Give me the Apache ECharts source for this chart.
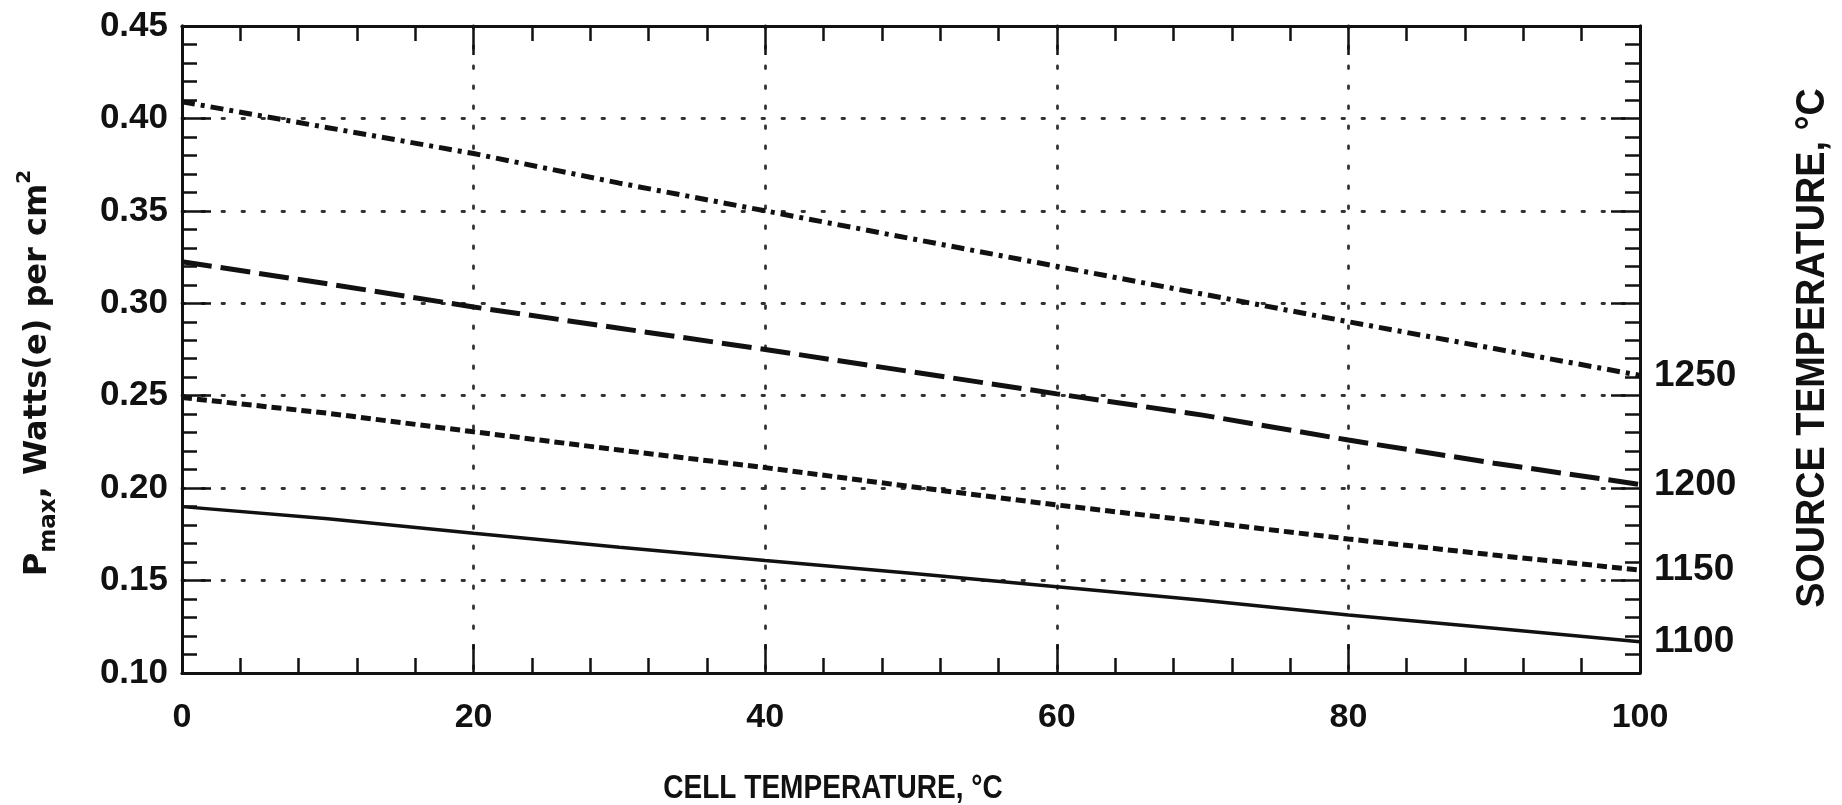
<!DOCTYPE html>
<html><head><meta charset="utf-8">
<script src="https://cdn.jsdelivr.net/npm/echarts@6/dist/echarts.min.js"></script>
<style>html,body{margin:0;padding:0;background:#fff}#c{width:1842px;height:805px}</style>
</head><body><div id="c"></div>
<script>
// Cell temperature (°C) sample points
const cellTemp = [0, 10, 20, 30, 40, 50, 60, 70, 80, 90, 100];
// Pmax, W(e)/cm2 for each source temperature
const src1100 = [0.190, 0.1835, 0.1756, 0.168, 0.1608, 0.154, 0.1467, 0.1393, 0.1314, 0.1242, 0.1169];
const src1150 = [0.249, 0.2405, 0.2305, 0.2206, 0.2111, 0.2008, 0.1909, 0.1818, 0.1725, 0.1638, 0.1557];
const src1200 = [0.3225, 0.3105, 0.298, 0.2865, 0.275, 0.263, 0.251, 0.2395, 0.226, 0.2135, 0.202];
const src1250 = [0.409, 0.395, 0.381, 0.365, 0.350, 0.335, 0.320, 0.305, 0.290, 0.2755, 0.261];
const sourceLabels = ['1100', '1150', '1200', '1250'];
const xTitle = 'CELL TEMPERATURE, °C';
const yRightTitle = 'SOURCE TEMPERATURE, °C';

const INK = '#111';
const AF = 'Liberation Sans, Arial, sans-serif';
const DF = 'DejaVu Sans, sans-serif';

const chart = echarts.init(document.getElementById('c'), null, {renderer: 'canvas'});

const dotted = {show: true, lineStyle: {color: '#333', width: 2.8, type: [2.5, 17.5], cap: 'round'}};
function axisCommon() {
  return {
    axisLine: {show: true, onZero: false, lineStyle: {color: INK, width: 3}},
    axisTick: {show: true, inside: true, length: 29, lineStyle: {color: INK, width: 2.5}},
    minorTick: {show: true, splitNumber: 5, length: 15, lineStyle: {color: INK, width: 2.5}},
    minorSplitLine: {show: false}
  };
}

const seriesData = [src1100, src1150, src1200, src1250];
const lineStyles = [
  {width: 3.5, type: 'solid'},
  {width: 5, type: [10, 5]},
  {width: 5, type: [30, 9]},
  {width: 5, type: [13, 6, 4, 6]}
];

const option = {
  animation: false,
  backgroundColor: '#fff',
  grid: {left: 182, right: 202, top: 26, bottom: 132, containLabel: false},
  xAxis: [
    Object.assign({
      type: 'value', min: 0, max: 100, interval: 20, position: 'bottom',
      splitLine: dotted,
      axisLabel: {show: true, margin: 28, color: INK, fontSize: 34, fontWeight: 'bold', fontFamily: AF}
    }, axisCommon()),
    Object.assign({
      type: 'value', min: 0, max: 100, interval: 20, position: 'top',
      splitLine: {show: false}, axisLabel: {show: false}
    }, axisCommon())
  ],
  yAxis: [
    Object.assign({
      type: 'value', min: 0.10, max: 0.45, interval: 0.05, position: 'left',
      splitLine: dotted,
      axisLabel: {show: true, margin: 14, color: INK, fontSize: 35, fontWeight: 'bold', fontFamily: AF,
        formatter: v => v.toFixed(2)}
    }, axisCommon()),
    Object.assign({
      type: 'value', min: 0.10, max: 0.45, interval: 0.05, position: 'right',
      splitLine: {show: false}, axisLabel: {show: false}
    }, axisCommon())
  ],
  series: seriesData.map((d, i) => ({
    type: 'line',
    name: sourceLabels[i],
    xAxisIndex: 0, yAxisIndex: 0,
    data: cellTemp.map((x, k) => [x, d[k]]),
    showSymbol: false, symbol: 'none',
    smooth: false,
    lineStyle: Object.assign({color: INK}, lineStyles[i]),
    endLabel: {show: true, formatter: sourceLabels[i], distance: 14, color: INK,
      fontSize: 37, fontWeight: 'bold', fontFamily: AF},
    z: 5
  })),
  graphic: [
    {type: 'text', x: 833, y: 789, scaleX: 0.85, style: {text: xTitle, align: 'center', verticalAlign: 'middle',
      fill: INK, font: 'bold 33px ' + AF}},
    {type: 'text', x: 1813, y: 348, rotation: Math.PI / 2, scaleX: 0.92, style: {text: yRightTitle, align: 'center', verticalAlign: 'middle',
      fill: INK, font: 'bold 41px ' + AF}},
    {type: 'text', x: 38, y: 373, rotation: Math.PI / 2, style: {
      text: '{b|P}{s|max}{b|, Watts(e) per cm}{u|2}', align: 'center', verticalAlign: 'middle',
      rich: {
        b: {fontSize: 32, fontWeight: 'bold', fontFamily: DF, fill: INK, color: INK, lineHeight: 46, verticalAlign: 'middle'},
        s: {fontSize: 23, fontWeight: 'bold', fontFamily: DF, fill: INK, color: INK, lineHeight: 46, verticalAlign: 'bottom'},
        u: {fontSize: 20, fontWeight: 'bold', fontFamily: DF, fill: INK, color: INK, lineHeight: 46, verticalAlign: 'top'}
      }
    }}
  ]
};
chart.setOption(option);
</script>
</body></html>
